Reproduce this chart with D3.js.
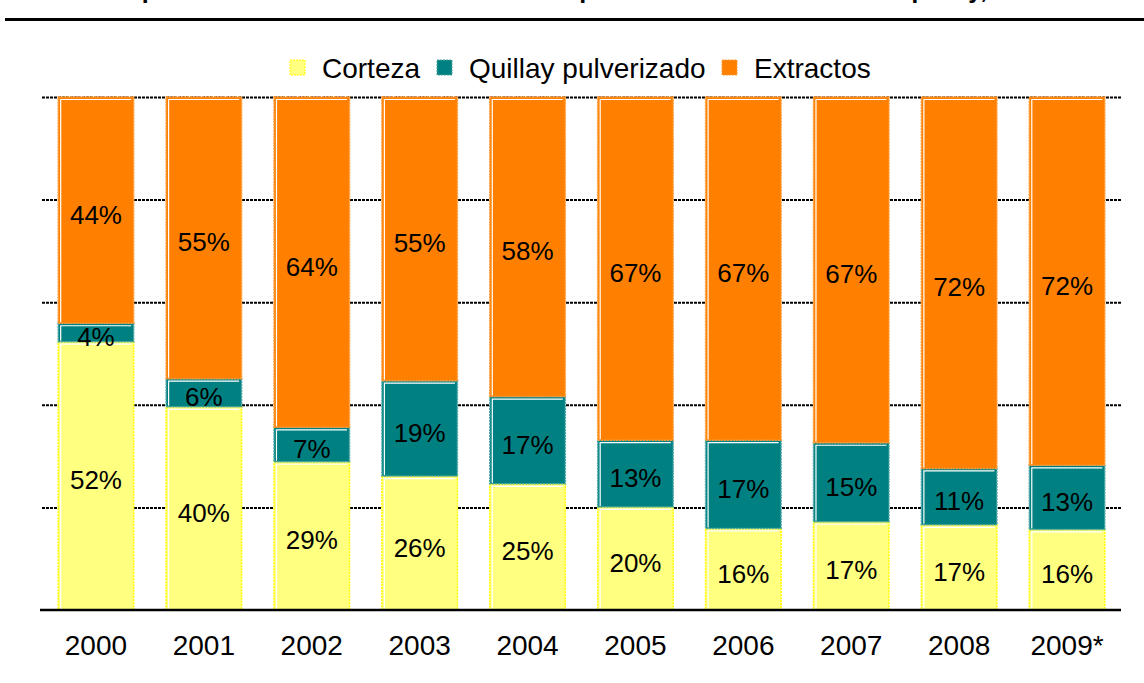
<!DOCTYPE html>
<html lang="es">
<head>
<meta charset="utf-8">
<title>Exportaciones de quillay</title>
<script src="https://cdn.jsdelivr.net/npm/d3@7/dist/d3.min.js"></script>
<style>
  body { margin: 0; background: #fff; }
  svg { display: block; font-family: "Liberation Sans", Arial, sans-serif; }
  .grid line { stroke: #000; stroke-width: 2; stroke-dasharray: 3,1; }
  .grid path { display: none; }
  .label { font-size: 26px; fill: #000; text-anchor: middle; }
  .year { font-size: 28px; fill: #000; text-anchor: middle; }
  .legend text { font-size: 28px; fill: #000; }
</style>
</head>
<body>
<div id="chart"></div>
<script>
// share of each product in the yearly total (%)
var years = ["2000", "2001", "2002", "2003", "2004", "2005", "2006", "2007", "2008", "2009*"];
var corteza   = [52.3, 39.6, 28.9, 26.1, 24.6, 20.1, 15.9, 17.2, 16.6, 15.7];
var quillay   = [3.6, 5.5, 6.7, 18.6, 17.0, 13.0, 17.2, 15.4, 11.0, 12.5];
var extractos = [44.1, 54.9, 64.4, 55.3, 58.4, 66.9, 66.9, 67.4, 72.4, 71.8];
var seriesNames = ["Corteza", "Quillay pulverizado", "Extractos"];
var gridTicks = [20, 40, 60, 80, 100];

var W = 1144, H = 683;
var fills   = ["#ffff80", "#008080", "#ff8000"];
var borders = ["#ffff00", "#4da6a6", "#ff9933"];

var rows = years.map(function(y, i) {
  return { year: y, Corteza: corteza[i], "Quillay pulverizado": quillay[i], Extractos: extractos[i] };
});

var svg = d3.select("#chart").append("svg")
  .attr("width", W)
  .attr("height", H);

var x = d3.scaleBand()
  .domain(years)
  .range([42, 1121])
  .paddingInner(0.3)
  .paddingOuter(0.15);

var y = d3.scaleLinear()
  .domain([0, 100])
  .range([610, 97]);

// title, mostly cut off by the top edge
svg.append("text")
  .attr("x", 600)
  .attr("y", -2)
  .attr("text-anchor", "middle")
  .style("font-size", "25px")
  .style("font-weight", "bold")
  .text("Composición de los envíos al exterior de productos de la corteza de quillay, 2000-2009");

svg.append("line")
  .attr("x1", 5).attr("x2", W)
  .attr("y1", 19.5).attr("y2", 19.5)
  .attr("stroke", "#000")
  .attr("stroke-width", 3);

// gridlines
svg.append("g")
  .attr("class", "grid")
  .attr("transform", "translate(42,0)")
  .call(d3.axisLeft(y).tickValues(gridTicks).tickSize(-(1121 - 42)).tickFormat(""));

var stack = d3.stack().keys(seriesNames);
var layers = stack(rows);

var layer = svg.selectAll(".layer")
  .data(layers)
  .enter().append("g")
  .attr("class", "layer");

layer.selectAll("rect")
  .data(function(d) { return d; })
  .enter().append("rect")
  .attr("x", function(d) { return x(d.data.year); })
  .attr("y", function(d) { return y(d[1]); })
  .attr("width", x.bandwidth())
  .attr("height", function(d) { return y(d[0]) - y(d[1]); })
  .attr("fill", function() { return fills[d3.select(this.parentNode).datum().index]; })
  .attr("stroke", function() { return borders[d3.select(this.parentNode).datum().index]; })
  .attr("stroke-width", 1.5)
  .attr("stroke-dasharray", "2,1");

// white bevel on the top and left edges
layer.selectAll("path.bevel")
  .data(function(d) { return d; })
  .enter().append("path")
  .attr("class", "bevel")
  .attr("fill", "none")
  .attr("stroke", "#fff")
  .attr("stroke-width", 1.2)
  .attr("d", function(d) {
    var x0 = x(d.data.year) + 2.5, y0 = y(d[1]) + 2.5, yb = y(d[0]) - 1;
    return "M" + x0 + "," + yb + "V" + y0 + "H" + (x(d.data.year) + x.bandwidth() - 2.5);
  });

layer.selectAll("text")
  .data(function(d) { return d; })
  .enter().append("text")
  .attr("class", "label")
  .attr("x", function(d) { return x(d.data.year) + x.bandwidth() / 2; })
  .attr("y", function(d) { return (y(d[0]) + y(d[1])) / 2 + 13.5; })
  .text(function(d) { return Math.round(d[1] - d[0]) + "%"; });

// baseline
svg.append("line")
  .attr("x1", 40).attr("x2", 1121)
  .attr("y1", y(0)).attr("y2", y(0))
  .attr("stroke", "#000")
  .attr("stroke-width", 2.5);

svg.selectAll(".year")
  .data(years)
  .enter().append("text")
  .attr("class", "year")
  .attr("x", function(d) { return x(d) + x.bandwidth() / 2; })
  .attr("y", 655)
  .text(function(d) { return d; });

// legend
var legendX = [290, 437, 722];
var legend = svg.append("g").attr("class", "legend")
  .selectAll("g")
  .data(seriesNames)
  .enter().append("g")
  .attr("transform", function(d, i) { return "translate(" + legendX[i] + ",68)"; });

legend.append("rect")
  .attr("x", 0).attr("y", -8)
  .attr("width", 15).attr("height", 15)
  .attr("fill", function(d, i) { return fills[i]; })
  .attr("stroke", function(d, i) { return borders[i]; })
  .attr("stroke-dasharray", "2,1");

legend.append("text")
  .attr("x", 32)
  .attr("y", 10)
  .text(function(d) { return d; });
</script>
</body>
</html>
